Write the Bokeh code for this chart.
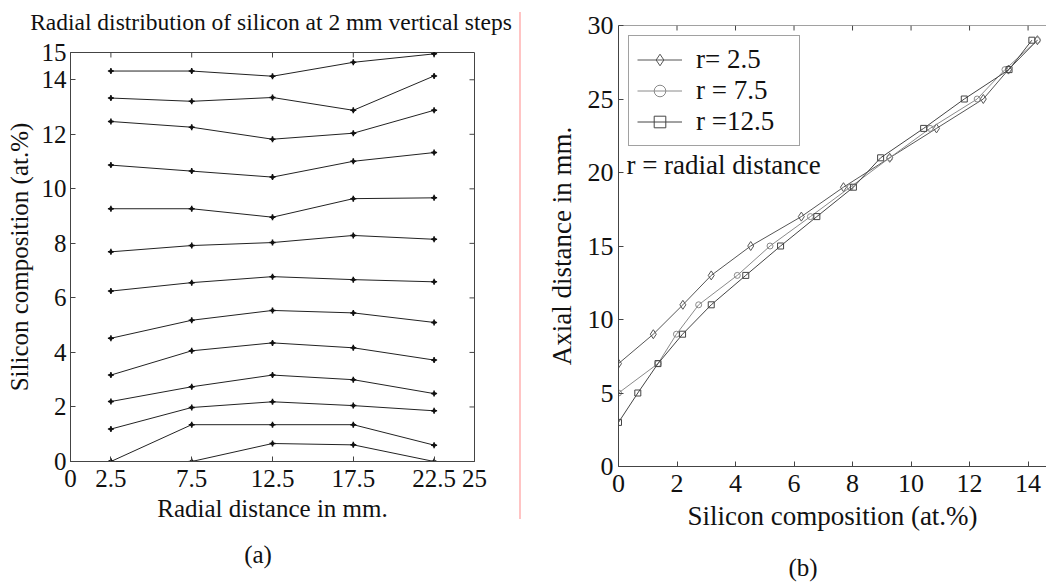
import math
from bokeh.plotting import figure
from bokeh.models import Range1d, FixedTicker, LinearAxis, Label, Div, Span
from bokeh.layouts import row, column
from bokeh.embed import file_html
from bokeh.resources import INLINE

# ---------------- data ----------------
radial_mm = [2.5, 7.5, 12.5, 17.5, 22.5]
# silicon composition (at.%) along radius, one row per 2 mm vertical step (top -> bottom)
si_h29 = [14.32, 14.32, 14.13, 14.64, 14.95]
si_h27 = [13.33, 13.21, 13.35, 12.88, 14.14]
si_h25 = [12.47, 12.26, 11.82, 12.04, 12.88]
si_h23 = [10.87, 10.65, 10.43, 11.01, 11.33]
si_h21 = [9.27, 9.27, 8.96, 9.64, 9.67]
si_h19 = [7.69, 7.92, 8.03, 8.29, 8.15]
si_h17 = [6.25, 6.56, 6.78, 6.67, 6.59]
si_h15 = [4.52, 5.18, 5.54, 5.45, 5.10]
si_h13 = [3.17, 4.06, 4.35, 4.17, 3.72]
si_h11 = [2.20, 2.74, 3.17, 3.00, 2.49]
si_h9 = [1.19, 1.98, 2.19, 2.05, 1.86]
si_h7 = [0.00, 1.35, 1.35, 1.35, 0.60]
si_h5 = [0.00, 0.00, 0.66, 0.61, 0.00]
step_rows = [si_h29, si_h27, si_h25, si_h23, si_h21, si_h19, si_h17,
             si_h15, si_h13, si_h11, si_h9, si_h7, si_h5]

x_ticks_a = [0, 2.5, 7.5, 12.5, 17.5, 22.5, 25]
y_ticks_a = [0, 2, 4, 6, 8, 10, 12, 14, 15]

# right panel: axial distance vs silicon composition
axial_r2_5 = [7, 9, 11, 13, 15, 17, 19, 21, 23, 25, 27, 29]
si_r2_5 = [0.00, 1.19, 2.20, 3.17, 4.52, 6.25, 7.69, 9.27, 10.87, 12.47, 13.33, 14.32]
axial_r7_5 = [5, 7, 9, 11, 13, 15, 17, 19, 21, 23, 25, 27, 29]
si_r7_5 = [0.00, 1.35, 1.98, 2.74, 4.06, 5.18, 6.56, 7.92, 9.27, 10.65, 12.26, 13.21, 14.32]
axial_r12_5 = [3, 5, 7, 9, 11, 13, 15, 17, 19, 21, 23, 25, 27, 29]
si_r12_5 = [0.00, 0.66, 1.35, 2.19, 3.17, 4.35, 5.54, 6.78, 8.03, 8.96, 10.43, 11.82, 13.35, 14.13]

x_ticks_b = [0, 2, 4, 6, 8, 10, 12, 14]
y_ticks_b = [0, 5, 10, 15, 20, 25, 30]

FONT = "'Liberation Serif'"
AX = "#444444"
TXT = "#111111"


def style_axis(ax, size, standoff):
    ax.axis_line_color = AX
    ax.axis_line_width = 1
    ax.major_tick_line_color = AX
    ax.major_tick_in = 5
    ax.major_tick_out = 0
    ax.minor_tick_line_color = None
    ax.major_label_text_font = FONT
    ax.major_label_text_font_size = size
    ax.major_label_text_color = TXT
    ax.major_label_standoff = standoff
    ax.axis_label_text_font = FONT
    ax.axis_label_text_font_style = "normal"
    ax.axis_label_text_color = TXT


def text_div(text, width, height, size, top, left, inner_width):
    html = ('<div style="font-family:\'Liberation Serif\',serif; font-size:%s; color:%s; '
            'text-align:center; line-height:27px; white-space:nowrap; width:%dpx; '
            'margin-top:%dpx; margin-left:%dpx;">%s</div>'
            % (size, TXT, inner_width, top, left, text))
    return Div(text=html, width=width, height=height, margin=(0, 0, 0, 0))


# ---------------- panel (a) ----------------
xr_a = Range1d(0, 25)
yr_a = Range1d(0, 15)
pa = figure(width=519, height=502, output_backend="svg", toolbar_location=None,
            x_range=xr_a, y_range=yr_a,
            min_border_left=70, min_border_right=45, min_border_top=16,
            min_border_bottom=77, x_axis_location=None, y_axis_location=None)
pa.grid.visible = False
pa.outline_line_color = AX
pa.background_fill_color = "white"
pa.border_fill_color = "white"
pa.title.text = ""

xa = LinearAxis(ticker=FixedTicker(ticks=x_ticks_a, minor_ticks=[]),
                axis_label="Radial distance in mm.")
style_axis(xa, "25px", 8)
xa.axis_label_text_font_size = "25px"
xa.axis_label_standoff = 5
pa.add_layout(xa, "below")
ya = LinearAxis(ticker=FixedTicker(ticks=y_ticks_a, minor_ticks=[]),
                axis_label="Silicon composition (at.%)")
style_axis(ya, "25px", 4)
ya.axis_label_text_font_size = "25px"
ya.axis_label_standoff = 6
pa.add_layout(ya, "left")

# inward ticks on the top and right edges of the box
pa.ray(x=x_ticks_a[1:-1], y=[yr_a.end] * len(x_ticks_a[1:-1]), length=5,
       length_units="screen", angle=-math.pi / 2, line_color=AX, line_width=1)
pa.ray(x=[xr_a.end] * len(y_ticks_a[1:-1]), y=y_ticks_a[1:-1], length=5,
       length_units="screen", angle=math.pi, line_color=AX, line_width=1)

for vals in step_rows:
    pa.line(radial_mm, vals, line_color="#222222", line_width=1)
    pa.scatter(radial_mm, vals, marker="cross", size=6, line_color=TXT, line_width=1.5)
    pa.scatter(radial_mm, vals, marker="circle", size=3, line_color=TXT, fill_color=TXT)

title_a = text_div("Radial distribution of silicon at 2 mm vertical steps",
                   519, 36, "23.5px", 9, 23, 496)
cap_a = text_div("(a)", 519, 44, "25px", 3, 0, 516)

# ---------------- separator ----------------
sep = Div(text="", width=2, height=507, margin=(12, 0, 0, 0),
          styles={"background-color": "#ffc4c4"})

# ---------------- panel (b) ----------------
xr_b = Range1d(0, 14.63)
yr_b = Range1d(0, 30)
pb = figure(width=525, height=542, output_backend="svg", toolbar_location=None,
            x_range=xr_b, y_range=yr_b,
            min_border_left=97, min_border_right=0, min_border_top=25,
            min_border_bottom=76, x_axis_location=None, y_axis_location=None)
pb.grid.visible = False
pb.outline_line_color = None
pb.background_fill_color = "white"
pb.border_fill_color = "white"
pb.title.text = ""

xb = LinearAxis(ticker=FixedTicker(ticks=x_ticks_b, minor_ticks=[]),
                axis_label="Silicon composition (at.%)")
style_axis(xb, "26px", 8)
xb.axis_label_text_font_size = "27px"
xb.axis_label_standoff = 6
pb.add_layout(xb, "below")
yb = LinearAxis(ticker=FixedTicker(ticks=y_ticks_b, minor_ticks=[]),
                axis_label="Axial distance in mm.")
style_axis(yb, "26px", 5)
yb.axis_label_text_font_size = "27px"
yb.axis_label_standoff = 8
pb.add_layout(yb, "left")

# top edge of the box with inward ticks
pb.add_layout(Span(location=yr_b.end, dimension="width", line_color=AX, line_width=1))
pb.ray(x=x_ticks_b[1:], y=[yr_b.end] * len(x_ticks_b[1:]), length=5,
       length_units="screen", angle=-math.pi / 2, line_color=AX, line_width=1)

series = [
    (si_r2_5, axial_r2_5, "r= 2.5", "diamond", 9, "#555555"),
    (si_r7_5, axial_r7_5, "r = 7.5", "circle", 6, "#8a8a8a"),
    (si_r12_5, axial_r12_5, "r =12.5", "square", 6, "#444444"),
]
for xs, ys, lab, mk, sz, col in series:
    pb.line(xs, ys, line_color=col, line_width=1, legend_label=lab)
    pb.scatter(xs, ys, marker=mk, size=sz, line_color=col, fill_color=None,
               line_width=1, legend_label=lab)

lg = pb.legend[0]
lg.location = "top_left"
lg.margin = 10
lg.padding = 8
lg.spacing = 0
lg.glyph_width = 45
lg.glyph_height = 29
lg.label_height = 29
lg.label_width = 95
lg.label_standoff = 14
lg.label_text_font = FONT
lg.label_text_font_size = "27px"
lg.label_text_color = TXT
lg.border_line_color = AX
lg.border_line_width = 1
lg.background_fill_alpha = 1.0

pb.add_layout(Label(x=0.27, y=20.5, text="r = radial distance", text_font=FONT,
                    text_font_size="27px", text_color=TXT,
                    text_baseline="alphabetic"))
cap_b = text_div("(b)", 525, 40, "25px", 12, 39, 486)

layout = row(column(title_a, pa, cap_a, spacing=0), sep,
             column(pb, cap_b, spacing=0), spacing=0)
open("out.html", "w").write(file_html(layout, INLINE))
